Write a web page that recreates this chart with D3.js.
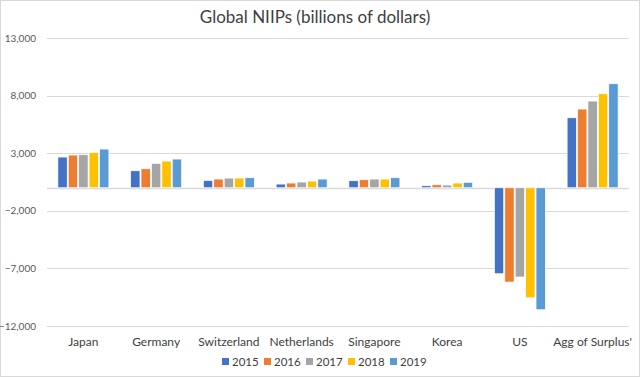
<!DOCTYPE html>
<html>
<head>
<meta charset="utf-8">
<title>Global NIIPs</title>
<script src="https://cdn.jsdelivr.net/npm/d3@7"></script>
<style>
  body { margin: 0; background: #fff; }
  text { font-family: Lato, "Open Sans", sans-serif; }
</style>
</head>
<body>
<div id="chart"></div>
<script>
// data (billions of dollars)
var countries = ["Japan", "Germany", "Switzerland", "Netherlands", "Singapore", "Korea", "US", "Agg of Surplus'"];
var years = ["2015", "2016", "2017", "2018", "2019"];
var v2015 = [2665, 1475, 640, 320, 610, 175, -7465, 6075];
var v2016 = [2840, 1650, 755, 410, 695, 260, -8185, 6830];
var v2017 = [2865, 2115, 840, 495, 755, 235, -7750, 7525];
var v2018 = [3070, 2315, 840, 580, 755, 410, -9550, 8160];
var v2019 = [3360, 2490, 870, 755, 870, 470, -10590, 9030];
var yTicks = [-12000, -7000, -2000, 3000, 8000, 13000];
var colors = ["#4472C4", "#ED7D31", "#A5A5A5", "#FFC000", "#5B9BD5"];

var series = [v2015, v2016, v2017, v2018, v2019];
var W = 640, H = 377;
var m = {top: 38, right: 11, bottom: 51, left: 47};

var svg = d3.select("#chart").append("svg").attr("width", W).attr("height", H);
svg.append("rect").attr("x", 0.5).attr("y", 0.5).attr("width", W - 1).attr("height", H - 1)
    .attr("fill", "#fff").attr("stroke", "#d9d9d9");

var y = d3.scaleLinear().domain([-12000, 13000]).range([H - m.bottom, m.top]);
var x0 = d3.scaleBand().domain(countries).range([m.left, W - m.right]).paddingInner(0.27).paddingOuter(0.135);
var x1 = d3.scaleBand().domain(years).range([0, x0.bandwidth()]).padding(0.1);

// gridlines
svg.append("g").selectAll("line").data(yTicks).enter().append("line")
    .attr("x1", m.left).attr("x2", W - m.right)
    .attr("y1", function (d) { return Math.round(y(d)) + 0.5; })
    .attr("y2", function (d) { return Math.round(y(d)) + 0.5; })
    .attr("stroke", "#d9d9d9");
svg.append("line").attr("x1", m.left).attr("x2", W - m.right)
    .attr("y1", Math.round(y(0)) + 0.5).attr("y2", Math.round(y(0)) + 0.5)
    .attr("stroke", "#d9d9d9").attr("stroke-width", 1.5);

// y labels
var fmt = d3.format(",");
svg.append("g").selectAll("text").data(yTicks).enter().append("text")
    .attr("x", 36).attr("y", function (d) { return y(d); }).attr("dy", "0.35em")
    .attr("text-anchor", "end").attr("font-size", 10).attr("fill", "#595959")
    .text(function (d) { return fmt(d); });

// bars
var grp = svg.append("g").selectAll("g").data(countries).enter().append("g")
    .attr("transform", function (d) { return "translate(" + x0(d) + ",0)"; });
grp.selectAll("rect").data(function (d, i) {
    return series.map(function (s, k) { return {year: years[k], v: s[i], k: k}; });
}).enter().append("rect")
    .attr("x", function (d) { return x1(d.year); })
    .attr("y", function (d) { return y(Math.max(0, d.v)); })
    .attr("width", x1.bandwidth())
    .attr("height", function (d) { return Math.abs(y(d.v) - y(0)); })
    .attr("fill", function (d) { return colors[d.k]; })
    .attr("stroke", "#fff").attr("stroke-width", 0.7);

// category labels
svg.append("g").selectAll("text").data(countries).enter().append("text")
    .attr("x", function (d) { return x0(d) + x0.bandwidth() / 2; })
    .attr("y", 346).attr("text-anchor", "middle").attr("font-size", 12).attr("fill", "#404040")
    .text(function (d) { return d; });

// title
svg.append("text").attr("x", W / 2 - 5).attr("y", 23).attr("text-anchor", "middle")
    .attr("font-size", 17).attr("fill", "#404040").text("Global NIIPs (billions of dollars)");

// legend
var lg = svg.append("g").selectAll("g").data(years).enter().append("g")
    .attr("transform", function (d, i) { return "translate(" + (222 + i * 42) + ",362)"; });
lg.append("rect").attr("x", 0).attr("y", -4).attr("width", 7).attr("height", 7)
    .attr("fill", function (d, i) { return colors[i]; });
lg.append("text").attr("x", 10).attr("y", 0).attr("dy", "0.35em").attr("font-size", 11.5)
    .attr("fill", "#404040").text(function (d) { return d; });
</script>
</body>
</html>
